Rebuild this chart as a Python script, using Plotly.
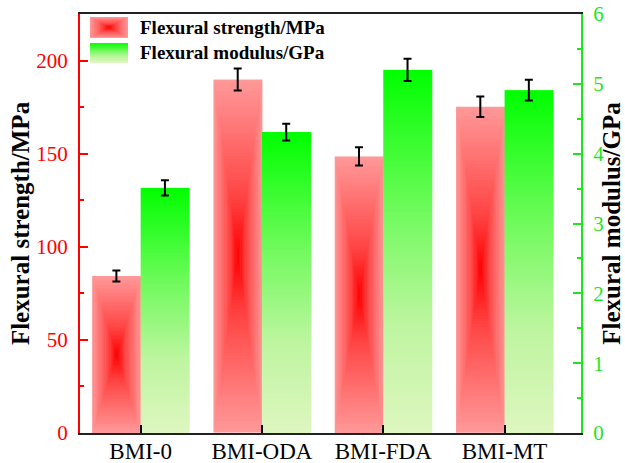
import numpy as np
import plotly.graph_objects as go

categories = ["BMI-0", "BMI-ODA", "BMI-FDA", "BMI-MT"]
strength = [84.3, 189.8, 148.5, 175.2]          # MPa
strength_err = [2.9, 5.9, 4.9, 5.5]
modulus = [3.51, 4.31, 5.20, 4.91]               # GPa
modulus_err = [0.11, 0.12, 0.16, 0.15]
legend_labels = ["Flexural strength/MPa", "Flexural modulus/GPa"]

RED = "#FF0000"
GREEN = "#1EE61E"
FONT = "Liberation Serif"
W = 0.40          # bar width (category units)
NX, NY = 40, 120

red_scale = [[0, "rgb(255,0,0)"], [0.35, "rgb(255,70,70)"], [1, "rgb(255,153,153)"]]
green_scale = [[0, "rgb(222,246,192)"], [0.3, "rgb(190,245,160)"],
               [0.6, "rgb(115,250,95)"], [1, "rgb(0,255,0)"]]


def rect_gradient(nx, ny):
    xc = (np.arange(nx) + 0.5) / nx * 2 - 1
    yc = (np.arange(ny) + 0.5) / ny * 2 - 1
    X, Y = np.meshgrid(np.abs(xc), np.abs(yc))
    return np.maximum(X, Y)


def vert_gradient(ny):
    yc = (np.arange(ny) + 0.5) / ny
    return yc.reshape(-1, 1)


fig = go.Figure()

for i, (v, m) in enumerate(zip(strength, modulus)):
    fig.add_trace(go.Heatmap(
        x=np.linspace(i - W, i, NX + 1), y=np.linspace(0, v, NY + 1),
        z=rect_gradient(NX, NY), colorscale=red_scale, zmin=0, zmax=1,
        showscale=False, hoverinfo="skip", xaxis="x", yaxis="y"))
    fig.add_trace(go.Heatmap(
        x=[i, i + W], y=np.linspace(0, m, NY + 1),
        z=vert_gradient(NY), colorscale=green_scale, zmin=0, zmax=1,
        showscale=False, hoverinfo="skip", xaxis="x", yaxis="y2"))

xs = np.arange(len(categories))
fig.add_trace(go.Scatter(
    x=xs - W / 2, y=strength, mode="markers", name=legend_labels[0],
    marker=dict(size=1, color="rgba(0,0,0,0)"),
    error_y=dict(type="data", array=strength_err, color="black", thickness=2, width=4),
    showlegend=False, xaxis="x", yaxis="y"))
fig.add_trace(go.Scatter(
    x=xs + W / 2, y=modulus, mode="markers", name=legend_labels[1],
    marker=dict(size=1, color="rgba(0,0,0,0)"),
    error_y=dict(type="data", array=modulus_err, color="black", thickness=2, width=4),
    showlegend=False, xaxis="x", yaxis="y2"))

# legend swatches
fig.add_trace(go.Heatmap(x=np.linspace(0, 1, NX + 1), y=np.linspace(0, 1, 31),
                         z=rect_gradient(NX, 30), colorscale=red_scale, zmin=0, zmax=1,
                         showscale=False, hoverinfo="skip", xaxis="x3", yaxis="y3"))
fig.add_trace(go.Heatmap(x=[0, 1], y=np.linspace(0, 1, 31),
                         z=vert_gradient(30), colorscale=green_scale, zmin=0, zmax=1,
                         showscale=False, hoverinfo="skip", xaxis="x4", yaxis="y4"))

hidden = dict(visible=False, range=[0, 1], fixedrange=True)
fig.update_layout(
    width=625, height=463,
    margin=dict(l=80, r=44, t=14, b=30),
    paper_bgcolor="white", plot_bgcolor="white",
    font=dict(family=FONT, size=21, color="black"),
    showlegend=False,
    xaxis=dict(range=[-0.5, 3.63], tickmode="array", tickvals=list(xs), ticktext=categories,
               ticks="inside", ticklen=8, tickwidth=1.5, tickcolor="black", automargin=False,
               showline=True, linecolor="#222", linewidth=2, mirror=True,
               showgrid=False, zeroline=False, tickfont=dict(size=23, color="black"),
               ticklabelstandoff=-4),
    yaxis=dict(range=[0, 225], tickvals=[0, 50, 100, 150, 200], automargin=False,
               ticks="inside", ticklen=8, tickwidth=1.5, tickcolor=RED,
               minor=dict(tickvals=[25, 75, 125, 175, 225], ticks="inside", ticklen=4, tickcolor=RED, tickwidth=1.5),
               showline=True, linecolor=RED, linewidth=2, showgrid=False, zeroline=False,
               tickfont=dict(size=21, color=RED), ticklabelstandoff=6,
               title=dict(text=legend_labels[0], font=dict(size=25, color="black", weight="bold"), standoff=0)),
    yaxis2=dict(range=[0, 6], tickvals=[0, 1, 2, 3, 4, 5, 6], overlaying="y", side="right",
                automargin=False,
                ticks="inside", ticklen=8, tickwidth=1.5, tickcolor=GREEN,
                minor=dict(tickvals=[0.5, 1.5, 2.5, 3.5, 4.5, 5.5], ticks="inside", ticklen=4, tickcolor=GREEN, tickwidth=1.5),
                showline=True, linecolor=GREEN, linewidth=2, showgrid=False, zeroline=False,
                tickfont=dict(size=21, color=GREEN), ticklabelstandoff=6,
                title=dict(text=legend_labels[1], font=dict(size=25, color="black", weight="bold"), standoff=6)),
    xaxis3=dict(domain=[0.02, 0.096], anchor="y3", **hidden),
    yaxis3=dict(domain=[0.943, 0.993], anchor="x3", **hidden),
    xaxis4=dict(domain=[0.02, 0.096], anchor="y4", **hidden),
    yaxis4=dict(domain=[0.883, 0.931], anchor="x4", **hidden),
    annotations=[
        dict(xref="paper", yref="paper", x=0.116, y=0.968, xanchor="left", yanchor="middle",
             text=legend_labels[0], showarrow=False,
             font=dict(family=FONT, size=19, color="black", weight="bold")),
        dict(xref="paper", yref="paper", x=0.116, y=0.907, xanchor="left", yanchor="middle",
             text=legend_labels[1], showarrow=False,
             font=dict(family=FONT, size=19, color="black", weight="bold")),
    ],
)

fig.write_html("out.html")
